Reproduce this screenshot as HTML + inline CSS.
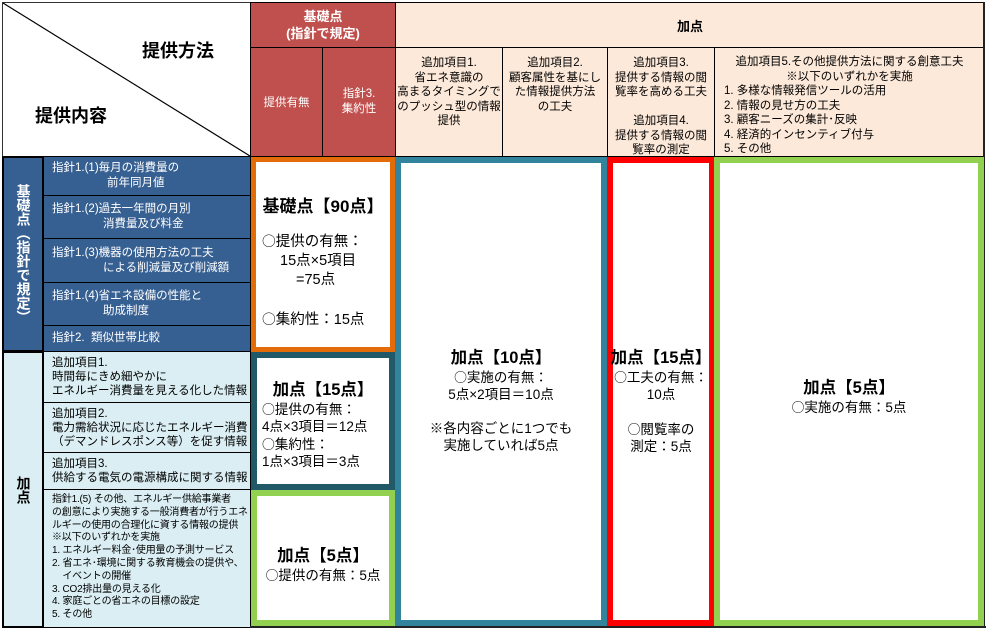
<!DOCTYPE html>
<html><head><meta charset="utf-8"><style>
*{margin:0;padding:0;box-sizing:border-box}
body{width:986px;height:630px;background:#fff;position:relative;overflow:hidden;font-family:"Liberation Sans","Noto Sans CJK JP",sans-serif;color:#000}
.a{position:absolute}
.c{position:absolute;display:flex;align-items:center;justify-content:center;text-align:center}
.bl{background:#376092;color:#fff;border:1.5px solid #000;font-size:11.5px;line-height:15px;padding-left:8px;white-space:nowrap}
.lb{background:#DAEEF3;border:1.5px solid #000;font-size:11.5px;line-height:14px;padding-left:8px;white-space:nowrap;overflow:hidden}
.ho{background:#FDE9D9;border:1.5px solid #000;font-size:11.5px;line-height:14.5px;white-space:nowrap;overflow:hidden}
.box{position:absolute;background:#fff;text-align:center;white-space:nowrap}
.box .o{font-family:"Noto Sans CJK JP",sans-serif;font-size:0.95em}
.t{font-weight:bold;font-size:16.5px}
</style></head><body>
<div class="a" style="left:2px;top:2px;width:249px;height:155px;border:1.5px solid #333;background:#fff"></div>
<svg class="a" style="left:0;top:0" width="252" height="158"><line x1="3" y1="3" x2="250" y2="156" stroke="#000" stroke-width="1.2"/></svg>
<div class="a" style="left:142px;top:37px;font-size:18px;font-weight:bold">提供方法</div>
<div class="a" style="left:35px;top:102px;font-size:18px;font-weight:bold">提供内容</div>
<div class="c" style="left:250px;top:2px;width:146px;height:46px;background:#C0504D;border:1.5px solid #000;color:#fff;font-weight:bold;font-size:13px;line-height:17px">基礎点<br>(指針で規定)</div>
<div class="c" style="left:250px;top:47px;width:73px;height:110px;background:#C0504D;border:1.5px solid #000;color:#fff;font-size:11.5px">提供有無</div>
<div class="c" style="left:322px;top:47px;width:74px;height:110px;background:#C0504D;border:1.5px solid #000;color:#fff;font-size:11.5px;line-height:15px">指針3.<br>集約性</div>
<div class="c" style="left:395px;top:2px;width:590px;height:46px;border:1.5px solid #000;background:#FDE9D9;font-weight:bold;font-size:13px">加点</div>
<div class="ho a" style="left:395px;top:47px;width:108px;height:110px;text-align:center;padding-top:8px">追加項目1.<br>省エネ意識の<br>高まるタイミングで<br>のプッシュ型の情報<br>提供</div>
<div class="ho a" style="left:502px;top:47px;width:106px;height:110px;text-align:center;padding-top:8px">追加項目2.<br>顧客属性を基にし<br>た情報提供方法<br>の工夫</div>
<div class="ho a" style="left:607px;top:47px;width:108px;height:110px;text-align:center;padding-top:8px">追加項目3.<br>提供する情報の閲<br>覧率を高める工夫<br><br>追加項目4.<br>提供する情報の閲<br>覧率の測定</div>
<div class="ho a" style="left:714px;top:47px;width:271px;height:110px;padding-top:7px"><div style="text-align:center">追加項目5.その他提供方法に関する創意工夫<br>※以下のいずれかを実施</div><div style="padding-left:9px">1. 多様な情報発信ツールの活用<br>2. 情報の見せ方の工夫<br>3. 顧客ニーズの集計･反映<br>4. 経済的インセンティブ付与<br>5. その他</div></div>
<div class="c" style="left:2px;top:156px;width:42px;height:196px;background:#376092;border:2px solid #000;color:#fff;font-weight:bold;font-size:14px;line-height:17px;writing-mode:vertical-rl">基礎点（指針で規定）</div>
<div class="c" style="left:2px;top:351px;width:42px;height:277px;background:#DAEEF3;border:2px solid #000;font-weight:bold;font-size:14px;line-height:17px;writing-mode:vertical-rl">加点</div>
<div class="a bl" style="left:43px;top:156px;width:208px;height:40px;padding-top:4px">指針1.(1)毎月の消費量の<br><span style="padding-left:55px">前年同月値</span></div>
<div class="a bl" style="left:43px;top:195px;width:208px;height:44px;padding-top:6px">指針1.(2)過去一年間の月別<br><span style="padding-left:51px">消費量及び料金</span></div>
<div class="a bl" style="left:43px;top:238px;width:208px;height:45px;padding-top:7px">指針1.(3)機器の使用方法の工夫<br><span style="padding-left:51px">による削減量及び削減額</span></div>
<div class="a bl" style="left:43px;top:282px;width:208px;height:44px;padding-top:6px">指針1.(4)省エネ設備の性能と<br><span style="padding-left:51px">助成制度</span></div>
<div class="a bl" style="left:43px;top:325px;width:208px;height:27px;padding-top:5px">指針2.&nbsp; 類似世帯比較</div>
<div class="a lb" style="left:43px;top:351px;width:208px;height:52px;padding-top:4px">追加項目1.<br>時間毎にきめ細やかに<br>エネルギー消費量を見える化した情報</div>
<div class="a lb" style="left:43px;top:402px;width:208px;height:51px;padding-top:4px">追加項目2.<br>電力需給状況に応じたエネルギー消費<br>（デマンドレスポンス等）を促す情報</div>
<div class="a lb" style="left:43px;top:452px;width:208px;height:38px;padding-top:4px">追加項目3.<br>供給する電気の電源構成に関する情報</div>
<div class="a lb" style="left:43px;top:489px;width:208px;height:139px;padding-top:4px;font-size:10px;line-height:12.8px;letter-spacing:-0.2px">指針1.(5) その他、エネルギー供給事業者<br>の創意により実施する一般消費者が行うエネ<br>ルギーの使用の合理化に資する情報の提供<br>※以下のいずれかを実施<br>1. エネルギー料金･使用量の予測サービス<br>2. 省エネ･環境に関する教育機会の提供や、<br>&nbsp;&nbsp;&nbsp;&nbsp;イベントの開催<br>3. CO2排出量の見える化<br>4. 家庭ごとの省エネの目標の設定<br>5. その他</div>
<div class="a" style="left:250px;top:626px;width:736px;height:2px;background:#222"></div>
<div class="a" style="left:983px;top:2px;width:2px;height:626px;background:#222"></div>
<div class="box" style="left:251px;top:157px;width:144px;height:195px;border:5px solid #E36C09">
<div class="t" style="margin-top:30px;font-size:17px">基礎点【90点】</div>
<div style="font-size:14.5px;line-height:19px;margin-top:14px;text-align:left;padding-left:6px"><span class="o">○</span>提供の有無：<br><span style="padding-left:18px">15点×5項目</span><br><span style="padding-left:34px">=75点</span><br><br><span class="o">○</span>集約性：15点</div></div>
<div class="box" style="left:251px;top:352px;width:144px;height:138px;border:6px solid #215968">
<div class="t" style="margin-top:18px">加点【15点】</div>
<div style="font-size:13.5px;line-height:17px;text-align:left;padding-left:5px"><span class="o">○</span>提供の有無：<br>4点×3項目＝12点<br><span class="o">○</span>集約性：<br>1点×3項目＝3点</div></div>
<div class="box" style="left:251px;top:490px;width:144px;height:136px;border:6px solid #92D050">
<div class="t" style="margin-top:46px">加点【5点】</div>
<div style="font-size:13.5px;line-height:17px"><span class="o">○</span>提供の有無：5点</div></div>
<div class="box" style="left:395px;top:157px;width:212px;height:469px;border:6px solid #31849B">
<div class="t" style="margin-top:181px">加点【10点】</div>
<div style="font-size:13.5px;line-height:17px"><span class="o">○</span>実施の有無：<br>5点×2項目＝10点<br><br>※各内容ごとに1つでも<br>実施していれば5点</div></div>
<div class="box" style="left:607px;top:157px;width:108px;height:469px;border:6px solid #FF0000">
<div class="t" style="margin-top:181px;margin-left:-6px;margin-right:-6px">加点【15点】</div>
<div style="font-size:13.5px;line-height:17px"><span class="o">○</span>工夫の有無：<br>10点<br><br><span class="o">○</span>閲覧率の<br>測定：5点</div></div>
<div class="box" style="left:714px;top:157px;width:270px;height:469px;border:6px solid #92D050">
<div class="t" style="margin-top:211px">加点【5点】</div>
<div style="font-size:13.5px;line-height:17px"><span class="o">○</span>実施の有無：5点</div></div>
</body></html>
